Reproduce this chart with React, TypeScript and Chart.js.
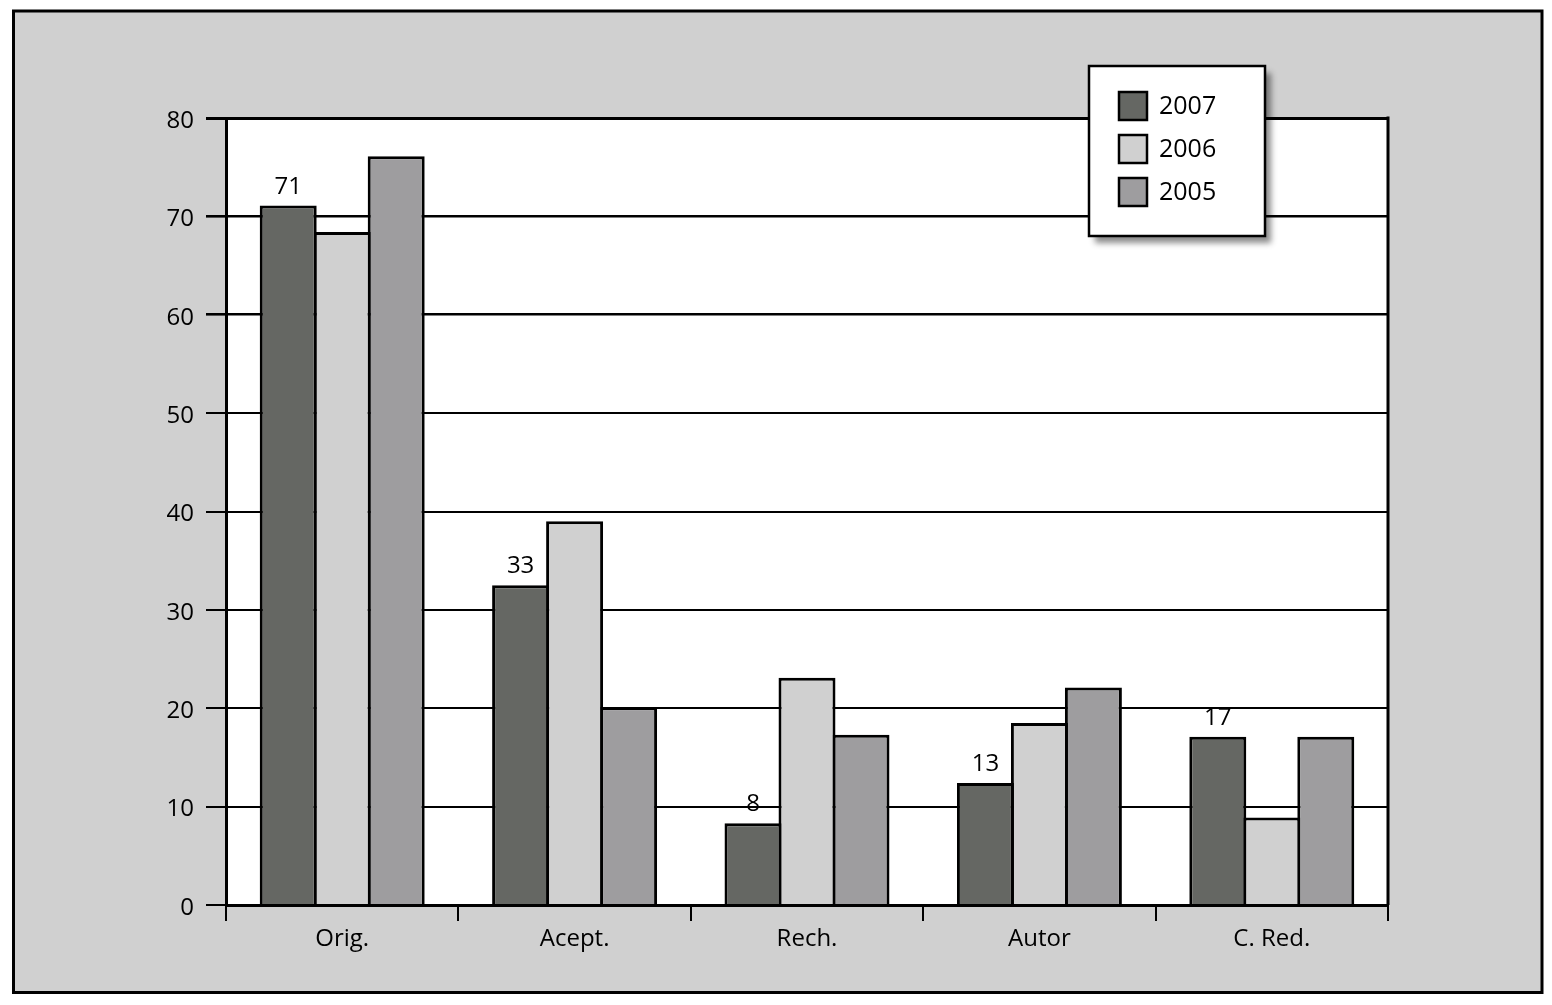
import React, { useEffect, useRef } from "react";
import { Chart, registerables } from "chart.js";

Chart.register(...registerables);

const categories = ["Orig.", "Acept.", "Rech.", "Autor", "C. Red."];
const seriesNames = ["2007", "2006", "2005"];
const values2007 = [71.1, 32.5, 8.3, 12.4, 17.1];
const values2006 = [68.4, 39.0, 23.1, 18.5, 8.9];
const values2005 = [76.1, 20.1, 17.3, 22.1, 17.1];
const labels2007 = ["71", "33", "8", "13", "17"];
const yTicks = [0, 10, 20, 30, 40, 50, 60, 70, 80];
const colors = ["#656763", "#d0d0d0", "#9e9d9f"];

const FONT = "'Open Sans', 'DejaVu Sans', sans-serif";

const framePlugin = {
  id: "frame",
  beforeDraw(chart: any) {
    const { ctx, width, height, chartArea } = chart;
    ctx.save();
    ctx.fillStyle = "#ffffff";
    ctx.fillRect(0, 0, width, height);
    ctx.fillStyle = "#d0d0d0";
    ctx.fillRect(13.5, 11, 1542 - 13.5, 992.5 - 11);
    ctx.lineWidth = 3;
    ctx.strokeStyle = "#000";
    ctx.strokeRect(13.5, 11, 1542 - 13.5, 992.5 - 11);
    ctx.fillStyle = "#ffffff";
    ctx.fillRect(chartArea.left, chartArea.top, chartArea.right - chartArea.left, chartArea.bottom - chartArea.top);
    ctx.restore();
  },
  afterDatasetsDraw(chart: any) {
    const { ctx } = chart;
    const meta = chart.getDatasetMeta(0);
    ctx.save();
    ctx.font = `24px ${FONT}`;
    ctx.fillStyle = "#000";
    ctx.textAlign = "center";
    ctx.textBaseline = "alphabetic";
    meta.data.forEach((bar: any, i: number) => {
      ctx.fillText(labels2007[i], bar.x, bar.y - 12);
    });
    ctx.restore();
  },
  afterDraw(chart: any) {
    const { ctx, chartArea } = chart;
    ctx.save();
    // right border of the plot area
    ctx.strokeStyle = "#000";
    ctx.lineWidth = 3;
    ctx.beginPath();
    ctx.moveTo(chartArea.right, chartArea.top - 1.5);
    ctx.lineTo(chartArea.right, chartArea.bottom);
    ctx.stroke();

    // legend
    const bx = 1089, by = 66, bw = 176, bh = 170;
    ctx.save();
    ctx.shadowColor = "rgba(0,0,0,0.45)";
    ctx.shadowBlur = 6;
    ctx.shadowOffsetX = 6;
    ctx.shadowOffsetY = 7;
    ctx.fillStyle = "#fff";
    ctx.fillRect(bx, by, bw, bh);
    ctx.restore();
    ctx.lineWidth = 2.5;
    ctx.strokeStyle = "#000";
    ctx.strokeRect(bx, by, bw, bh);
    ctx.font = `25px ${FONT}`;
    ctx.textAlign = "left";
    ctx.textBaseline = "middle";
    chart.data.datasets.forEach((ds: any, i: number) => {
      const sy = 92 + i * 43;
      ctx.fillStyle = ds.backgroundColor;
      ctx.fillRect(1119, sy, 28, 28);
      ctx.lineWidth = 2.5;
      ctx.strokeStyle = "#000";
      ctx.strokeRect(1119, sy, 28, 28);
      ctx.fillStyle = "#000";
      ctx.fillText(ds.label, 1159, sy + 15);
    });
    ctx.restore();
  },
};

export default function App() {
  const ref = useRef<HTMLCanvasElement | null>(null);
  useEffect(() => {
    document.body.style.margin = "0";
    const canvas = ref.current!;
    const seriesValues = [values2007, values2006, values2005];
    const chart = new Chart(canvas, {
      type: "bar",
      data: {
        labels: categories,
        datasets: seriesNames.map((name, i) => ({
          label: name,
          data: seriesValues[i],
          backgroundColor: colors[i],
          borderColor: "#000",
          borderWidth: 3,
          borderSkipped: "bottom",
          barPercentage: 1.0556,
          categoryPercentage: 0.697,
        })),
      },
      options: {
        animation: false,
        responsive: false,
        maintainAspectRatio: false,
        devicePixelRatio: 1,
        layout: { padding: { top: 118, right: 164, left: 0, bottom: 0 } },
        plugins: {
          legend: { display: false },
          tooltip: { enabled: false },
          title: { display: false },
        },
        scales: {
          x: {
            offset: true,
            grid: {
              offset: true,
              drawOnChartArea: false,
              drawTicks: true,
              tickLength: 16,
              color: "#000",
              lineWidth: 2,
            },
            border: { display: true, color: "#000", width: 3 },
            ticks: {
              color: "#000",
              font: { family: FONT, size: 24 },
              padding: 4,
            },
            afterFit(scale: any) {
              scale.height = 100;
            },
          },
          y: {
            min: 0,
            max: 80,
            afterBuildTicks(scale: any) {
              scale.ticks = yTicks.map((v) => ({ value: v }));
            },
            grid: {
              color: "#000",
              lineWidth: (ctx: any) => {
                const v = ctx.tick ? ctx.tick.value : 0;
                if (v === 80) return 3;
                if (v === 60 || v === 70) return 2.6;
                return 2;
              },
              drawTicks: true,
              tickLength: 20,
            },
            border: { display: true, color: "#000", width: 3 },
            ticks: {
              color: "#000",
              font: { family: FONT, size: 24 },
              padding: 12,
              labelOffset: 3,
            },
            afterFit(scale: any) {
              scale.width = 226;
            },
          },
        },
      },
      plugins: [framePlugin],
    });
    return () => chart.destroy();
  }, []);
  return (
    <div style={{ width: 1552, height: 1005 }}>
      <canvas ref={ref} width={1552} height={1005} style={{ display: "block", width: 1552, height: 1005 }} />
    </div>
  );
}
